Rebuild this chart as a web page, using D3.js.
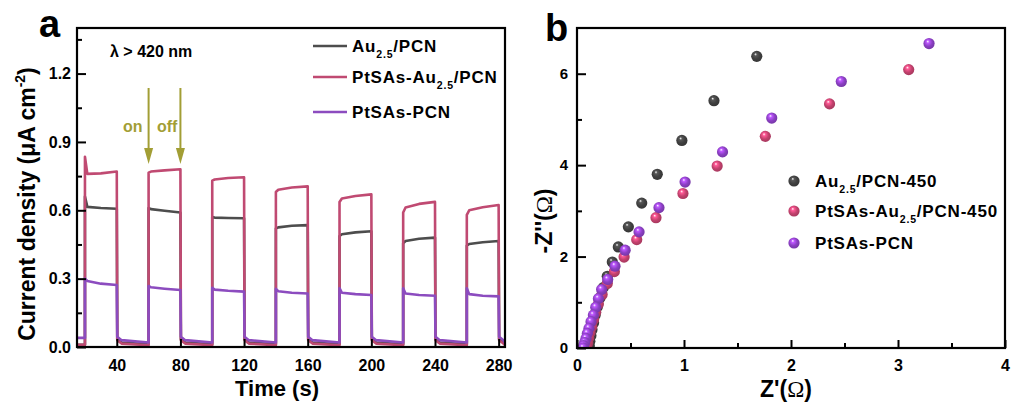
<!DOCTYPE html>
<html>
<head>
<meta charset="utf-8">
<script src="https://cdn.jsdelivr.net/npm/d3@7"></script>
<style>
  html, body { margin: 0; padding: 0; background: #fff; }
  svg { display: block; font-family: "Liberation Sans", Arial, sans-serif; font-weight: bold; }
</style>
</head>
<body>
<svg id="chart" width="1011" height="405"></svg>
<script>
// ---- panel a : photocurrent ----
const lightOn = [20, 60, 100, 140, 180, 220, 260];
const lightOff = [40, 80, 120, 160, 200, 240, 280];
const plateauTimes = [0, 1.5, 10]; // seconds after light on (last point is at light off)

// plateau values per cycle: peak, after 1.5 s, after 10 s, at light off
const au25Peak = [0.66, 0.61, 0.57, 0.52, 0.487, 0.455, 0.445];
const au25Early = [0.615, 0.605, 0.568, 0.525, 0.495, 0.465, 0.452];
const au25Mid = [0.61, 0.598, 0.566, 0.532, 0.503, 0.475, 0.46];
const au25End = [0.607, 0.59, 0.565, 0.535, 0.508, 0.48, 0.465];
const au25Dark = [0.035, 0.02, 0.012];

const ptAuPeak = [0.835, 0.765, 0.73, 0.68, 0.636, 0.59, 0.58];
const ptAuEarly = [0.76, 0.77, 0.735, 0.69, 0.652, 0.612, 0.6];
const ptAuMid = [0.762, 0.775, 0.742, 0.7, 0.663, 0.628, 0.613];
const ptAuEnd = [0.77, 0.78, 0.745, 0.705, 0.67, 0.637, 0.623];
const ptAuDark = [0.03, 0.015, 0.008];

const ptPeak = [0.3, 0.268, 0.26, 0.255, 0.258, 0.258, 0.258];
const ptEarly = [0.29, 0.262, 0.252, 0.245, 0.238, 0.235, 0.232];
const ptMid = [0.278, 0.256, 0.247, 0.238, 0.232, 0.228, 0.225];
const ptEnd = [0.272, 0.25, 0.243, 0.235, 0.228, 0.225, 0.222];
const ptDark = [0.045, 0.03, 0.02];
const darkTimes = [0.3, 3]; // seconds after light off

const seriesA = [
  { name: ['Au', '2.5', '/PCN'], color: '#4d4d4d', peak: au25Peak, early: au25Early, mid: au25Mid, end: au25End, dark: au25Dark, start: 0.01 },
  { name: ['PtSAs-Au', '2.5', '/PCN'], color: '#c04a72', peak: ptAuPeak, early: ptAuEarly, mid: ptAuMid, end: ptAuEnd, dark: ptAuDark, start: 0.01 },
  { name: ['PtSAs-PCN', '', ''], color: '#8c4cbf', peak: ptPeak, early: ptEarly, mid: ptMid, end: ptEnd, dark: ptDark, start: 0.04 }
];
const timeTicks = [40, 80, 120, 160, 200, 240, 280];
const currentTicks = [0, 0.3, 0.6, 0.9, 1.2];

// ---- panel b : Nyquist plot ----
const au25Eis = [[1.68, 6.38], [1.28, 5.41], [0.98, 4.54], [0.75, 3.8], [0.605, 3.17], [0.48, 2.65], [0.386, 2.21],
  [0.33, 1.88], [0.283, 1.57], [0.245, 1.32], [0.215, 1.1], [0.19, 0.9], [0.17, 0.72], [0.155, 0.55], [0.14, 0.4],
  [0.13, 0.27], [0.12, 0.15], [0.115, 0.05]];
const ptAuEis = [[3.1, 6.09], [2.36, 5.34], [1.76, 4.63], [1.31, 3.98], [0.99, 3.38], [0.738, 2.85], [0.558, 2.37],
  [0.44, 1.99], [0.349, 1.67], [0.283, 1.41], [0.235, 1.17], [0.2, 0.96], [0.175, 0.78], [0.155, 0.62], [0.138, 0.47],
  [0.122, 0.34], [0.11, 0.22], [0.1, 0.11], [0.092, 0.03]];
const ptEis = [[3.29, 6.66], [2.47, 5.83], [1.82, 5.03], [1.36, 4.29], [1.01, 3.63], [0.766, 3.07], [0.58, 2.54],
  [0.45, 2.14], [0.355, 1.79], [0.287, 1.5], [0.23, 1.28], [0.2, 1.08], [0.175, 0.89], [0.153, 0.72], [0.131, 0.575],
  [0.112, 0.43], [0.097, 0.32], [0.084, 0.21], [0.072, 0.12], [0.062, 0.05], [0.058, 0]];
const seriesB = [
  { name: ['Au', '2.5', '/PCN-450'], color: '#3f3f3f', data: au25Eis },
  { name: ['PtSAs-Au', '2.5', '/PCN-450'], color: '#c2416d', data: ptAuEis },
  { name: ['PtSAs-PCN', '', ''], color: '#8a3fc2', data: ptEis }
];
const zReTicks = [0, 1, 2, 3, 4];
const zImTicks = [0, 2, 4, 6];

const svg = d3.select('#chart');
const olive = '#a29e35';

/**
 * Build the step-shaped photocurrent trace of one sample
 */
const buildTrace = (s) => {
  const pts = [[15, s.start], [lightOn[0], s.start]];
  lightOn.forEach((on, i) => {
    pts.push([on, s.peak[i]]);
    pts.push([on + plateauTimes[1], s.early[i]]);
    pts.push([on + plateauTimes[2], s.mid[i]]);
    pts.push([lightOff[i], s.end[i]]);
    const off = lightOff[i];
    pts.push([off + darkTimes[0], s.dark[0]]);
    pts.push([off + darkTimes[1], s.dark[1]]);
    const next = i < lightOn.length - 1 ? lightOn[i + 1] : 284;
    pts.push([next, s.dark[2]]);
  });
  return pts;
};

// subscripted label helper
const addLabel = (sel, parts, size) => {
  sel.append('tspan').text(parts[0]);
  if (parts[1]) {
    sel.append('tspan').attr('font-size', size * 0.62).attr('dy', size * 0.34).text(parts[1]);
    sel.append('tspan').attr('dy', -size * 0.34).text(parts[2]);
  }
};

// ---------- panel a ----------
const ax = { left: 77, right: 505, top: 28, bottom: 347 };
const xA = d3.scaleLinear().domain([15, 284]).range([ax.left, ax.right]);
const yA = d3.scaleLinear().domain([0, 1.4]).range([ax.bottom, ax.top]);

const ga = svg.append('g');
ga.append('clipPath').attr('id', 'clipA').append('rect')
  .attr('x', ax.left).attr('y', ax.top).attr('width', ax.right - ax.left).attr('height', ax.bottom - ax.top);

const lineA = d3.line().x(d => xA(d[0])).y(d => yA(d[1]));
ga.append('g').attr('clip-path', 'url(#clipA)')
  .selectAll('path').data(seriesA).join('path')
  .attr('d', d => lineA(buildTrace(d)))
  .attr('fill', 'none')
  .attr('stroke', d => d.color)
  .attr('stroke-width', 2.6)
  .attr('stroke-linejoin', 'round');

// axes
ga.append('g').attr('transform', `translate(0, ${ax.bottom})`)
  .call(d3.axisBottom(xA).tickValues(timeTicks).tickFormat(d3.format('d')).tickSizeInner(-8).tickSizeOuter(0).tickPadding(13));
ga.append('g').attr('transform', `translate(${ax.left}, 0)`)
  .call(d3.axisLeft(yA).tickValues(currentTicks).tickFormat(d3.format('.1f')).tickSizeInner(-9).tickSizeOuter(0).tickPadding(6));
ga.append('g').attr('transform', `translate(${ax.left}, 0)`)
  .call(d3.axisLeft(yA).tickValues([0.15, 0.45, 0.75, 1.05, 1.35]).tickFormat('').tickSizeInner(-5).tickSizeOuter(0));

// ---------- panel b ----------
const bx = { left: 577, right: 1005, top: 28, bottom: 348 };
const xB = d3.scaleLinear().domain([0, 4]).range([bx.left, bx.right]);
const yB = d3.scaleLinear().domain([0, 7]).range([bx.bottom, bx.top]);

const gb = svg.append('g');
const defs = svg.append('defs');
seriesB.forEach((s, i) => {
  const grad = defs.append('radialGradient').attr('id', `ball${i}`)
    .attr('cx', '45%').attr('cy', '45%').attr('r', '60%').attr('fx', '38%').attr('fy', '30%');
  grad.append('stop').attr('offset', '0%').attr('stop-color', '#ffffff');
  grad.append('stop').attr('offset', '22%').attr('stop-color', d3.color(s.color).brighter(0.9));
  grad.append('stop').attr('offset', '60%').attr('stop-color', s.color);
  grad.append('stop').attr('offset', '100%').attr('stop-color', d3.color(s.color).darker(0.5));
});

gb.append('clipPath').attr('id', 'clipB').append('rect')
  .attr('x', bx.left).attr('y', bx.top - 6).attr('width', bx.right - bx.left).attr('height', bx.bottom - bx.top + 6);
const dots = gb.append('g').attr('clip-path', 'url(#clipB)');
seriesB.forEach((s, i) => {
  dots.append('g').selectAll('circle').data(s.data).join('circle')
    .attr('cx', d => xB(d[0]))
    .attr('cy', d => yB(d[1]))
    .attr('r', 5.6)
    .attr('fill', `url(#ball${i})`);
});

gb.append('g').attr('transform', `translate(0, ${bx.bottom})`)
  .call(d3.axisBottom(xB).tickValues(zReTicks).tickFormat(d3.format('d')).tickSizeInner(-8).tickSizeOuter(0).tickPadding(12));
gb.append('g').attr('transform', `translate(0, ${bx.bottom})`)
  .call(d3.axisBottom(xB).tickValues([0.5, 1.5, 2.5, 3.5]).tickFormat('').tickSizeInner(-5).tickSizeOuter(0));
const yAxisB = gb.append('g').attr('transform', `translate(${bx.left}, 0)`)
  .call(d3.axisLeft(yB).tickValues(zImTicks).tickFormat(d3.format('d')).tickSizeInner(-9).tickSizeOuter(0).tickPadding(9));
gb.append('g').attr('transform', `translate(${bx.left}, 0)`)
  .call(d3.axisLeft(yB).tickValues([1, 3, 5]).tickFormat('').tickSizeInner(-5).tickSizeOuter(0));

// axis styling
svg.selectAll('.domain').remove();
svg.selectAll('.tick line').attr('stroke', '#000').attr('stroke-width', 2);
svg.selectAll('.tick text').attr('font-family', '"Liberation Sans", Arial, sans-serif')
  .attr('font-weight', 'bold').attr('font-size', 16).attr('fill', '#000');
yAxisB.selectAll('.tick text').attr('font-size', 15);

// frames
[ax, bx].forEach(f => {
  svg.append('rect').attr('x', f.left).attr('y', f.top)
    .attr('width', f.right - f.left).attr('height', f.bottom - f.top)
    .attr('fill', 'none').attr('stroke', '#000').attr('stroke-width', 2.2);
});

// ---------- annotations ----------
svg.append('text').attr('x', 39).attr('y', 37).attr('font-size', 38).text('a');
svg.append('text').attr('x', 545).attr('y', 41).attr('font-size', 38).text('b');

svg.append('text').attr('x', 110).attr('y', 57).attr('font-size', 16).text('λ > 420 nm');

[60, 80].forEach(t => {
  const x = xA(t);
  svg.append('line').attr('x1', x).attr('x2', x).attr('y1', 88).attr('y2', 152)
    .attr('stroke', olive).attr('stroke-width', 2);
  svg.append('path').attr('d', `M${x - 4.5},148 L${x + 4.5},148 L${x},164 Z`).attr('fill', olive);
});
svg.append('text').attr('x', 123).attr('y', 132).attr('font-size', 16).attr('fill', olive).text('on');
svg.append('text').attr('x', 157).attr('y', 132).attr('font-size', 16).attr('fill', olive).text('off');

// legend a
seriesA.forEach((s, i) => {
  const y = [46, 77, 112][i];
  svg.append('line').attr('x1', 313).attr('x2', 347).attr('y1', y).attr('y2', y)
    .attr('stroke', s.color).attr('stroke-width', 2.6);
  const t = svg.append('text').attr('x', 352).attr('y', y + 6).attr('font-size', 17).attr('letter-spacing', 0.8);
  addLabel(t, s.name, 17);
});

// legend b
seriesB.forEach((s, i) => {
  const y = [181, 211, 243][i];
  svg.append('circle').attr('cx', 794).attr('cy', y).attr('r', 5.6).attr('fill', `url(#ball${i})`);
  const t = svg.append('text').attr('x', 815).attr('y', y + 6).attr('font-size', 17).attr('letter-spacing', 0.8);
  addLabel(t, s.name, 17);
});

// axis titles
svg.append('text').attr('x', 277).attr('y', 395.5).attr('text-anchor', 'middle').attr('font-size', 22).text('Time (s)');
const yTitleA = svg.append('text').attr('transform', 'translate(35, 204) rotate(-90)')
  .attr('text-anchor', 'middle').attr('font-size', 23);
yTitleA.append('tspan').text('Current density (μA cm');
yTitleA.append('tspan').attr('font-size', 14).attr('dy', -10).text('-2');
yTitleA.append('tspan').attr('dy', 10).text(')');

const xTitleB = svg.append('text').attr('x', 786).attr('y', 397).attr('text-anchor', 'middle').attr('font-size', 23);
xTitleB.append('tspan').text("Z'(");
xTitleB.append('tspan').attr('font-family', '"Liberation Serif", serif').attr('font-weight', 'normal').text('Ω');
xTitleB.append('tspan').text(')');

const yTitleB = svg.append('text').attr('transform', 'translate(552, 221) rotate(-90)')
  .attr('text-anchor', 'middle').attr('font-size', 23);
yTitleB.append('tspan').text("-Z''(");
yTitleB.append('tspan').attr('font-family', '"Liberation Serif", serif').attr('font-weight', 'normal').text('Ω');
yTitleB.append('tspan').text(')');
</script>
</body>
</html>
